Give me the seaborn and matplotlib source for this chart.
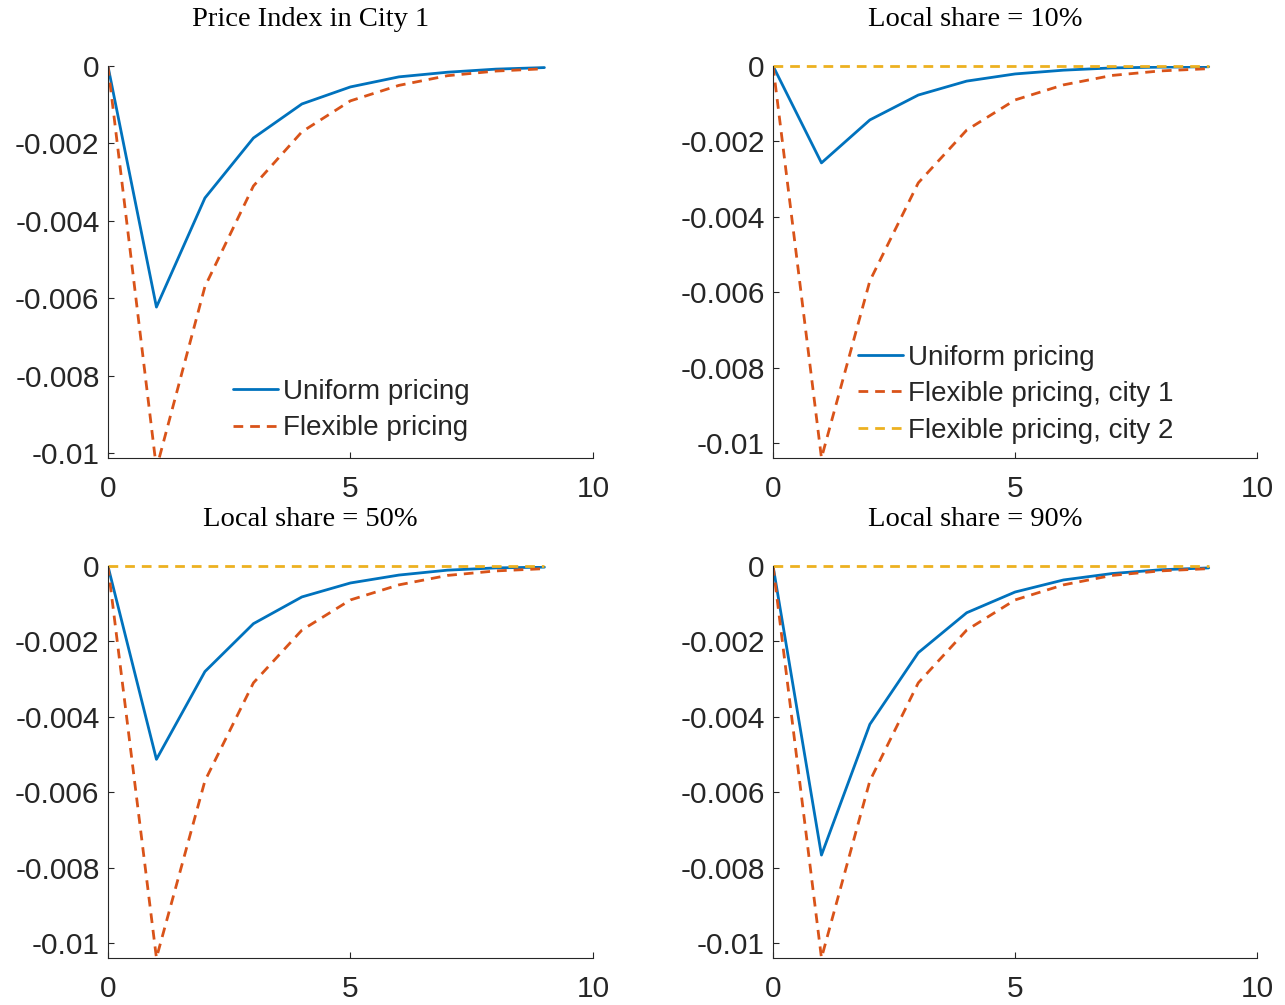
import numpy as np
import pandas as pd
import matplotlib
matplotlib.use("Agg")
import matplotlib.pyplot as plt
import seaborn as sns
from matplotlib.ticker import FuncFormatter

# periods after the shock
periods = [0, 1, 2, 3, 4, 5, 6, 7, 8, 9]

# flexible pricing response (same in every panel)
flex_city1 = [0, -0.0104, -0.0057, -0.0031, -0.0017, -0.0009, -0.0005, -0.00025, -0.00013, -0.00007]
flex_city2 = [0, 0, 0, 0, 0, 0, 0, 0, 0, 0]

# uniform pricing response per panel
uniform_total = [0, -0.00623, -0.00341, -0.00186, -0.00098, -0.00054, -0.00028, -0.00016, -0.00008, -0.00004]
uniform_10 = [0, -0.00257, -0.00143, -0.00077, -0.0004, -0.00021, -0.00011, -0.00005, -0.00003, -0.00002]
uniform_50 = [0, -0.00513, -0.0028, -0.00153, -0.00082, -0.00045, -0.00024, -0.00011, -0.00005, -0.00003]
uniform_90 = [0, -0.00767, -0.0042, -0.0023, -0.00124, -0.00069, -0.00037, -0.0002, -0.0001, -0.00005]

titles = ["Price Index in City 1", "Local share = 10%", "Local share = 50%", "Local share = 90%"]
yticks = [0, -0.002, -0.004, -0.006, -0.008, -0.01]

sns.set_theme(style="ticks")
plt.rcParams['font.family'] = ['Liberation Sans', 'DejaVu Sans']

blue, orange, yellow = "#0072BD", "#D95319", "#EDB120"
dash = (0, (3.5, 2.5))
dark = "#262626"

fig = plt.figure(figsize=(12.85, 10.05), dpi=100)
positions = [
    [0.0840, 0.5443, 0.3774, 0.390],
    [0.6016, 0.5443, 0.3767, 0.390],
    [0.0840, 0.0468, 0.3774, 0.390],
    [0.6016, 0.0468, 0.3767, 0.390],
]
uniforms = [uniform_total, uniform_10, uniform_50, uniform_90]
ymins = [-0.01013, -0.0104, -0.0104, -0.0104]

for i in range(4):
    ax = fig.add_axes(positions[i])
    df = pd.DataFrame({"t": periods, "uni": uniforms[i], "f1": flex_city1, "f2": flex_city2})
    sns.lineplot(data=df, x="t", y="uni", ax=ax, color=blue, lw=2, label="Uniform pricing")
    if i == 0:
        sns.lineplot(data=df, x="t", y="f1", ax=ax, color=orange, lw=2, linestyle=dash,
                     label="Flexible pricing")
    else:
        sns.lineplot(data=df, x="t", y="f1", ax=ax, color=orange, lw=2, linestyle=dash,
                     label="Flexible pricing, city 1")
        sns.lineplot(data=df, x="t", y="f2", ax=ax, color=yellow, lw=2, linestyle=dash,
                     label="Flexible pricing, city 2", clip_on=False)

    ax.set_xlim(0, 10)
    ax.set_ylim(ymins[i], 0)
    ax.set_xticks([0, 5, 10])
    ax.set_yticks(yticks)
    ax.yaxis.set_major_formatter(FuncFormatter(lambda v, _: "0" if abs(v) < 1e-12 else f"{v:g}"))
    ax.set_xlabel("")
    ax.set_ylabel("")
    ax.set_title(titles[i], family="Liberation Serif", fontsize=20.5, pad=28.5, color="black",
                 x=0.418)
    sns.despine(ax=ax)
    for s in ["left", "bottom"]:
        ax.spines[s].set_color(dark)
        ax.spines[s].set_linewidth(0.8)
    ax.tick_params(axis="both", direction="in", length=4, width=0.8, color=dark,
                   labelsize=21.5, labelcolor=dark)
    ax.tick_params(axis="x", pad=12)
    ax.tick_params(axis="y", pad=6)

    leg_kw = dict(loc="center left", frameon=False, fontsize=20, handlelength=1.62,
                  handletextpad=0.18, labelspacing=0.38, borderpad=0, borderaxespad=0)
    if i == 0:
        ax.legend(bbox_to_anchor=(0.258, 0.122), **leg_kw)
    elif i == 1:
        ax.legend(bbox_to_anchor=(0.176, 0.163), **leg_kw)
    else:
        ax.get_legend().remove()

fig.savefig("out.png", dpi=100)
